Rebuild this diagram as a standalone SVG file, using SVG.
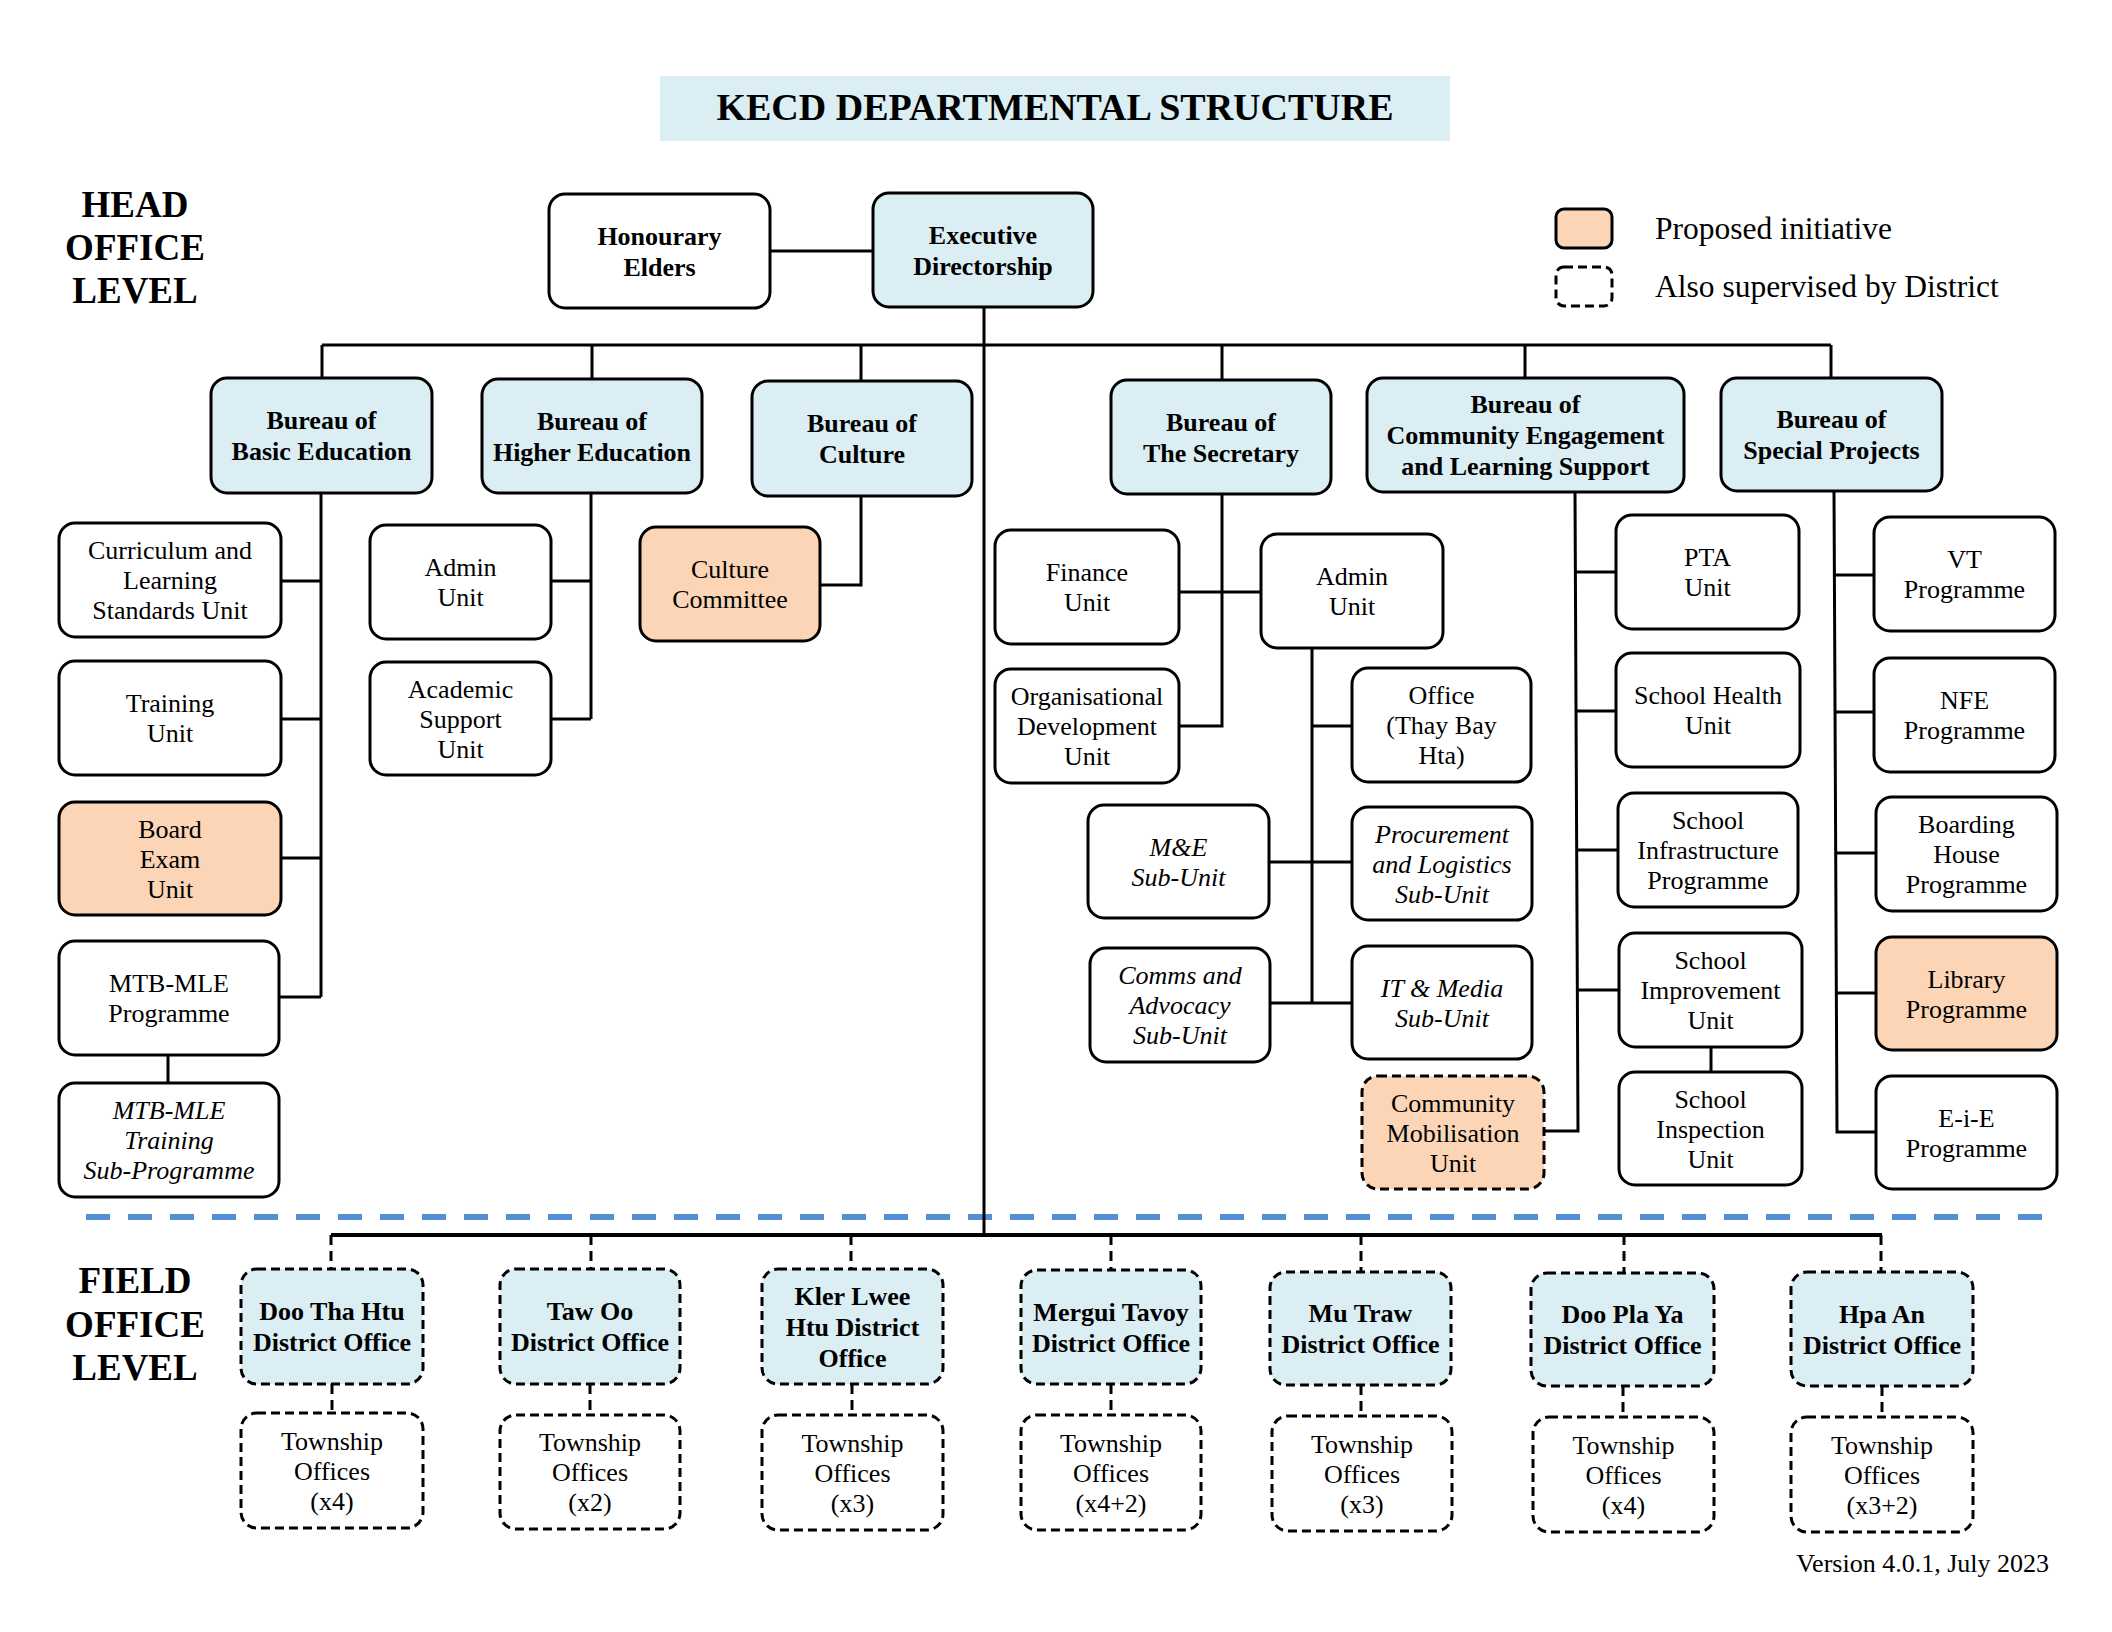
<svg xmlns="http://www.w3.org/2000/svg" width="2112" height="1632" viewBox="0 0 2112 1632">
<style>
.n{fill:#fff;stroke:#000;stroke-width:3}
.bl{fill:#DAEEF3}
.or{fill:#FBD5B5}
.ds{stroke-dasharray:9 5}
text{font-family:"Liberation Serif","Times New Roman",serif;font-size:26px;text-anchor:middle;fill:#000}
.b{font-weight:bold}
.i{font-style:italic}
.c{fill:none;stroke:#000;stroke-width:3}
.cd{fill:none;stroke:#000;stroke-width:3;stroke-dasharray:10 6}
.lvl{font-size:37px;font-weight:bold}
</style>
<rect x="660" y="76" width="790" height="65" fill="#DAEEF3"/>
<text x="1055" y="120" class="b" style="font-size:38px">KECD DEPARTMENTAL STRUCTURE</text>
<g id="head-label"><text class="lvl" x="135" y="217">HEAD</text><text class="lvl" x="135" y="260">OFFICE</text><text class="lvl" x="135" y="303">LEVEL</text></g>
<g id="field-label"><text class="lvl" x="135" y="1293">FIELD</text><text class="lvl" x="135" y="1337">OFFICE</text><text class="lvl" x="135" y="1380">LEVEL</text></g>
<g id="legend">
<rect class="n or" x="1556" y="209" width="56" height="39" rx="8"/>
<text x="1655" y="239" style="font-size:31.5px;text-anchor:start">Proposed initiative</text>
<rect class="n ds" x="1556" y="267" width="56" height="39" rx="8"/>
<text x="1655" y="297" style="font-size:31.5px;text-anchor:start">Also supervised by District</text>
</g>
<line x1="86" y1="1217" x2="2042" y2="1217" stroke="#558ED5" stroke-width="6" stroke-dasharray="24 18"/>
<g id="connectors">
<path class="c" d="M770 251H873M984 307V1235M322 345H1831M322 345V378M592 345V379M861 345V381M1222 345V380M1525 345V378M1831 345V378"/>
<path class="c" d="M321 493V997M281 581H321M281 719H321M281 858H321M279 997H321M168 1055V1083"/>
<path class="c" d="M591 493V719M551 581H591M551 719H591"/>
<path class="c" d="M861 496V585H820"/>
<path class="c" d="M1222 494V726H1179M1179 592H1261"/>
<path class="c" d="M1312 648V1003M1312 726H1352M1269 862H1352M1270 1003H1352"/>
<path class="c" d="M1575 492L1578 1131H1544M1576 572H1616M1576 711H1616M1577 850H1618M1577 990H1619M1711 1047V1072"/>
<path class="c" d="M1834 491L1837 1132H1876M1834 575H1874M1835 712H1874M1835 853H1876M1836 993H1876"/>
<path class="c" d="M331 1235H1882" style="stroke-width:4"/>
<path class="cd" d="M331 1235V1269M591 1235V1269M851 1235V1269M1111 1235V1270M1361 1235V1272M1624 1235V1273M1881 1235V1272"/>
<path class="cd" d="M332 1384V1413M590 1384V1415M852 1384V1415M1111 1384V1415M1361 1385V1416M1623 1386V1417M1882 1386V1417"/>
</g>
<g id="honourary"><rect class="n" x="549" y="194" width="221" height="114" rx="16"/><text class="b" x="659.5" y="244.5">Honourary</text><text class="b" x="659.5" y="275.5">Elders</text></g>
<g id="executive"><rect class="n bl" x="873" y="193" width="220" height="114" rx="16"/><text class="b" x="983" y="243.5">Executive</text><text class="b" x="983" y="274.5">Directorship</text></g>
<g id="basic"><rect class="n bl" x="211" y="378" width="221" height="115" rx="16"/><text class="b" x="321.5" y="429">Bureau of</text><text class="b" x="321.5" y="460">Basic Education</text></g>
<g id="higher"><rect class="n bl" x="482" y="379" width="220" height="114" rx="16"/><text class="b" x="592" y="429.5">Bureau of</text><text class="b" x="592" y="460.5">Higher Education</text></g>
<g id="culture"><rect class="n bl" x="752" y="381" width="220" height="115" rx="16"/><text class="b" x="862" y="432">Bureau of</text><text class="b" x="862" y="463">Culture</text></g>
<g id="secretary"><rect class="n bl" x="1111" y="380" width="220" height="114" rx="16"/><text class="b" x="1221" y="430.5">Bureau of</text><text class="b" x="1221" y="461.5">The Secretary</text></g>
<g id="community"><rect class="n bl" x="1367" y="378" width="317" height="114" rx="16"/><text class="b" x="1525.5" y="413">Bureau of</text><text class="b" x="1525.5" y="444">Community Engagement</text><text class="b" x="1525.5" y="475">and Learning Support</text></g>
<g id="special"><rect class="n bl" x="1721" y="378" width="221" height="113" rx="16"/><text class="b" x="1831.5" y="428">Bureau of</text><text class="b" x="1831.5" y="459">Special Projects</text></g>
<g id="curriculum"><rect class="n" x="59" y="523" width="222" height="114" rx="16"/><text x="170" y="559">Curriculum and</text><text x="170" y="589">Learning</text><text x="170" y="619">Standards Unit</text></g>
<g id="training"><rect class="n" x="59" y="661" width="222" height="114" rx="16"/><text x="170" y="712">Training</text><text x="170" y="742">Unit</text></g>
<g id="boardexam"><rect class="n or" x="59" y="802" width="222" height="113" rx="16"/><text x="170" y="837.5">Board</text><text x="170" y="867.5">Exam</text><text x="170" y="897.5">Unit</text></g>
<g id="mtbmle"><rect class="n" x="59" y="941" width="220" height="114" rx="16"/><text x="169" y="992">MTB-MLE</text><text x="169" y="1022">Programme</text></g>
<g id="mtbtraining"><rect class="n" x="59" y="1083" width="220" height="114" rx="16"/><text class="i" x="169" y="1119">MTB-MLE</text><text class="i" x="169" y="1149">Training</text><text class="i" x="169" y="1179">Sub-Programme</text></g>
<g id="admin-higher"><rect class="n" x="370" y="525" width="181" height="114" rx="16"/><text x="460.5" y="576">Admin</text><text x="460.5" y="606">Unit</text></g>
<g id="academic"><rect class="n" x="370" y="662" width="181" height="113" rx="16"/><text x="460.5" y="697.5">Academic</text><text x="460.5" y="727.5">Support</text><text x="460.5" y="757.5">Unit</text></g>
<g id="culturecommittee"><rect class="n or" x="640" y="527" width="180" height="114" rx="16"/><text x="730" y="578">Culture</text><text x="730" y="608">Committee</text></g>
<g id="finance"><rect class="n" x="995" y="530" width="184" height="114" rx="16"/><text x="1087" y="581">Finance</text><text x="1087" y="611">Unit</text></g>
<g id="orgdev"><rect class="n" x="995" y="669" width="184" height="114" rx="16"/><text x="1087" y="705">Organisational</text><text x="1087" y="735">Development</text><text x="1087" y="765">Unit</text></g>
<g id="admin-secretary"><rect class="n" x="1261" y="534" width="182" height="114" rx="16"/><text x="1352" y="585">Admin</text><text x="1352" y="615">Unit</text></g>
<g id="office"><rect class="n" x="1352" y="668" width="179" height="114" rx="16"/><text x="1441.5" y="704">Office</text><text x="1441.5" y="734">(Thay Bay</text><text x="1441.5" y="764">Hta)</text></g>
<g id="me"><rect class="n" x="1088" y="805" width="181" height="113" rx="16"/><text class="i" x="1178.5" y="855.5">M&amp;E</text><text class="i" x="1178.5" y="885.5">Sub-Unit</text></g>
<g id="procurement"><rect class="n" x="1352" y="807" width="180" height="113" rx="16"/><text class="i" x="1442" y="842.5">Procurement</text><text class="i" x="1442" y="872.5">and Logistics</text><text class="i" x="1442" y="902.5">Sub-Unit</text></g>
<g id="comms"><rect class="n" x="1090" y="948" width="180" height="114" rx="16"/><text class="i" x="1180" y="984">Comms and</text><text class="i" x="1180" y="1014">Advocacy</text><text class="i" x="1180" y="1044">Sub-Unit</text></g>
<g id="itmedia"><rect class="n" x="1352" y="946" width="180" height="113" rx="16"/><text class="i" x="1442" y="996.5">IT &amp; Media</text><text class="i" x="1442" y="1026.5">Sub-Unit</text></g>
<g id="commob"><rect class="n or ds" x="1362" y="1076" width="182" height="113" rx="16"/><text x="1453" y="1111.5">Community</text><text x="1453" y="1141.5">Mobilisation</text><text x="1453" y="1171.5">Unit</text></g>
<g id="pta"><rect class="n" x="1616" y="515" width="183" height="114" rx="16"/><text x="1707.5" y="566">PTA</text><text x="1707.5" y="596">Unit</text></g>
<g id="health"><rect class="n" x="1616" y="653" width="184" height="114" rx="16"/><text x="1708" y="704">School Health</text><text x="1708" y="734">Unit</text></g>
<g id="infra"><rect class="n" x="1618" y="793" width="180" height="114" rx="16"/><text x="1708" y="829">School</text><text x="1708" y="859">Infrastructure</text><text x="1708" y="889">Programme</text></g>
<g id="improvement"><rect class="n" x="1619" y="933" width="183" height="114" rx="16"/><text x="1710.5" y="969">School</text><text x="1710.5" y="999">Improvement</text><text x="1710.5" y="1029">Unit</text></g>
<g id="inspection"><rect class="n" x="1619" y="1072" width="183" height="113" rx="16"/><text x="1710.5" y="1107.5">School</text><text x="1710.5" y="1137.5">Inspection</text><text x="1710.5" y="1167.5">Unit</text></g>
<g id="vt"><rect class="n" x="1874" y="517" width="181" height="114" rx="16"/><text x="1964.5" y="568">VT</text><text x="1964.5" y="598">Programme</text></g>
<g id="nfe"><rect class="n" x="1874" y="658" width="181" height="114" rx="16"/><text x="1964.5" y="709">NFE</text><text x="1964.5" y="739">Programme</text></g>
<g id="boarding"><rect class="n" x="1876" y="797" width="181" height="114" rx="16"/><text x="1966.5" y="833">Boarding</text><text x="1966.5" y="863">House</text><text x="1966.5" y="893">Programme</text></g>
<g id="library"><rect class="n or" x="1876" y="937" width="181" height="113" rx="16"/><text x="1966.5" y="987.5">Library</text><text x="1966.5" y="1017.5">Programme</text></g>
<g id="eie"><rect class="n" x="1876" y="1076" width="181" height="113" rx="16"/><text x="1966.5" y="1126.5">E-i-E</text><text x="1966.5" y="1156.5">Programme</text></g>
<g id="d1"><rect class="n bl ds" x="241" y="1269" width="182" height="115" rx="16"/><text class="b" x="332" y="1320">Doo Tha Htu</text><text class="b" x="332" y="1351">District Office</text></g>
<g id="d2"><rect class="n bl ds" x="500" y="1269" width="180" height="115" rx="16"/><text class="b" x="590" y="1320">Taw Oo</text><text class="b" x="590" y="1351">District Office</text></g>
<g id="d3"><rect class="n bl ds" x="762" y="1269" width="181" height="115" rx="16"/><text class="b" x="852.5" y="1304.5">Kler Lwee</text><text class="b" x="852.5" y="1335.5">Htu District</text><text class="b" x="852.5" y="1366.5">Office</text></g>
<g id="d4"><rect class="n bl ds" x="1021" y="1270" width="180" height="114" rx="16"/><text class="b" x="1111" y="1320.5">Mergui Tavoy</text><text class="b" x="1111" y="1351.5">District Office</text></g>
<g id="d5"><rect class="n bl ds" x="1270" y="1272" width="181" height="113" rx="16"/><text class="b" x="1360.5" y="1322">Mu Traw</text><text class="b" x="1360.5" y="1353">District Office</text></g>
<g id="d6"><rect class="n bl ds" x="1531" y="1273" width="183" height="113" rx="16"/><text class="b" x="1622.5" y="1323">Doo Pla Ya</text><text class="b" x="1622.5" y="1354">District Office</text></g>
<g id="d7"><rect class="n bl ds" x="1791" y="1272" width="182" height="114" rx="16"/><text class="b" x="1882" y="1322.5">Hpa An</text><text class="b" x="1882" y="1353.5">District Office</text></g>
<g id="t1"><rect class="n ds" x="241" y="1413" width="182" height="115" rx="16"/><text x="332" y="1449.5">Township</text><text x="332" y="1479.5">Offices</text><text x="332" y="1509.5">(x4)</text></g>
<g id="t2"><rect class="n ds" x="500" y="1415" width="180" height="114" rx="16"/><text x="590" y="1451">Township</text><text x="590" y="1481">Offices</text><text x="590" y="1511">(x2)</text></g>
<g id="t3"><rect class="n ds" x="762" y="1415" width="181" height="115" rx="16"/><text x="852.5" y="1451.5">Township</text><text x="852.5" y="1481.5">Offices</text><text x="852.5" y="1511.5">(x3)</text></g>
<g id="t4"><rect class="n ds" x="1021" y="1415" width="180" height="115" rx="16"/><text x="1111" y="1451.5">Township</text><text x="1111" y="1481.5">Offices</text><text x="1111" y="1511.5">(x4+2)</text></g>
<g id="t5"><rect class="n ds" x="1272" y="1416" width="180" height="115" rx="16"/><text x="1362" y="1452.5">Township</text><text x="1362" y="1482.5">Offices</text><text x="1362" y="1512.5">(x3)</text></g>
<g id="t6"><rect class="n ds" x="1533" y="1417" width="181" height="115" rx="16"/><text x="1623.5" y="1453.5">Township</text><text x="1623.5" y="1483.5">Offices</text><text x="1623.5" y="1513.5">(x4)</text></g>
<g id="t7"><rect class="n ds" x="1791" y="1417" width="182" height="115" rx="16"/><text x="1882" y="1453.5">Township</text><text x="1882" y="1483.5">Offices</text><text x="1882" y="1513.5">(x3+2)</text></g>
<text x="2049" y="1572" style="text-anchor:end">Version 4.0.1, July 2023</text>
</svg>
